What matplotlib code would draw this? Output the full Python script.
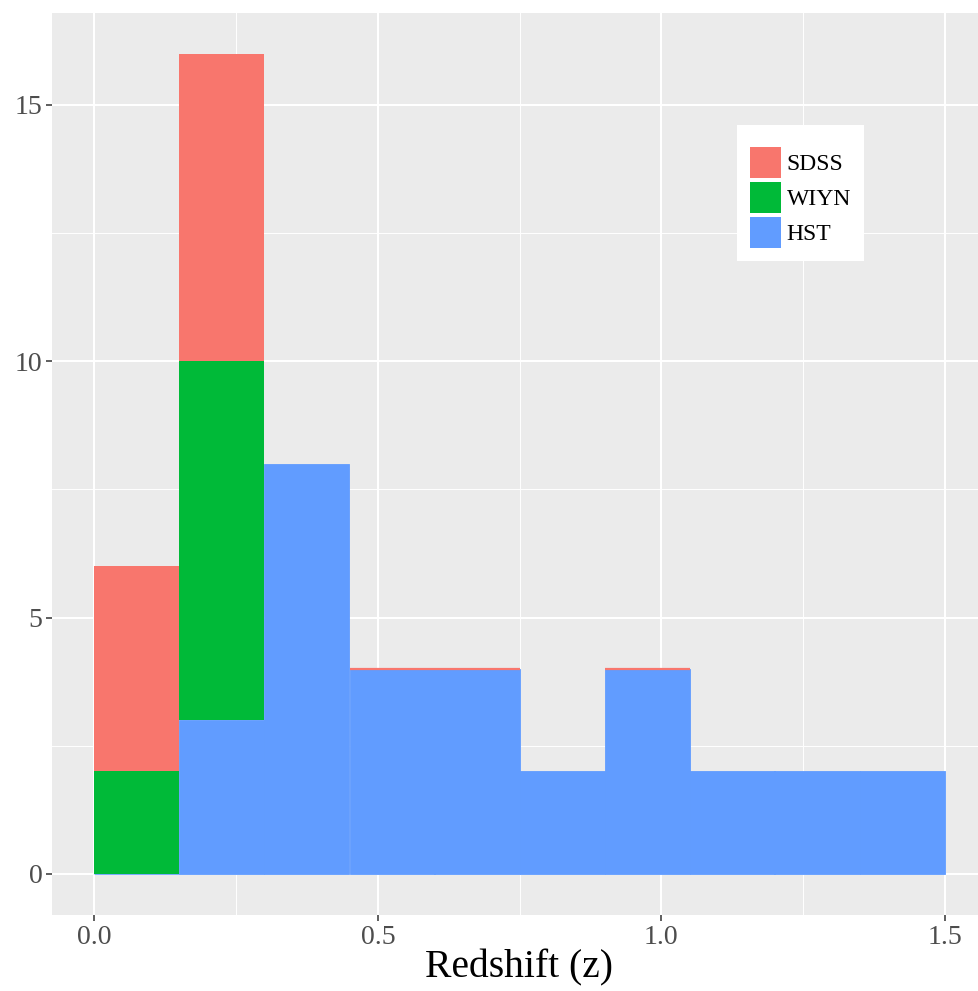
import numpy as np
import matplotlib
matplotlib.use('Agg')
from matplotlib import pyplot as plt
from matplotlib.patches import Patch

# histogram bins of redshift, width 0.15
bin_edges = [0.0, 0.15, 0.3, 0.45, 0.6, 0.75, 0.9, 1.05, 1.2, 1.35, 1.5]
hst = [0, 3, 8, 4, 4, 2, 4, 2, 2, 2]
wiyn = [2, 7, 0, 0, 0, 0, 0, 0, 0, 0]
sdss = [4, 6, 0, 0, 0, 0, 0, 0, 0, 0]
# empty SDSS bins that still show a thin outline in the original
sdss_outline = [False, False, False, True, True, False, True, False, False, False]

surveys = ['SDSS', 'WIYN', 'HST']
colors = {'SDSS': '#F8766D', 'WIYN': '#00BA38', 'HST': '#619CFF'}

plt.rcParams['font.family'] = ['Liberation Serif', 'DejaVu Serif']

fig = plt.figure(figsize=(9.79, 9.91), dpi=100)
ax = fig.add_axes([52 / 979, 1 - 915 / 991, 935 / 979, (915 - 12.7) / 991])
ax.set_facecolor('#EBEBEB')

left = np.array(bin_edges[:-1])
width = np.diff(bin_edges)
hst = np.array(hst)
wiyn = np.array(wiyn)
sdss = np.array(sdss)

ax.bar(left, hst, width=width, align='edge', color=colors['HST'],
       edgecolor=colors['HST'], linewidth=0.6, zorder=3)
ax.bar(left, wiyn, width=width, bottom=hst, align='edge', color=colors['WIYN'],
       linewidth=0, zorder=3)
ax.bar(left, sdss, width=width, bottom=hst + wiyn, align='edge', color=colors['SDSS'],
       linewidth=0, zorder=3)
for i, flag in enumerate(sdss_outline):
    if flag:
        top = hst[i] + wiyn[i] + sdss[i]
        ax.plot([left[i], left[i] + width[i]], [top, top], color=colors['SDSS'], lw=1.6,
                solid_capstyle='butt', zorder=4)

ax.set_xlim(-0.075, 1.575)
ax.set_ylim(-0.8, 16.8)
ax.set_xticks([0.0, 0.5, 1.0, 1.5])
ax.set_xticklabels(['0.0', '0.5', '1.0', '1.5'])
ax.set_yticks([0, 5, 10, 15])
ax.set_xticks([0.25, 0.75, 1.25], minor=True)
ax.set_yticks([2.5, 7.5, 12.5], minor=True)
ax.grid(True, which='major', color='white', lw=1.5, zorder=1)
ax.grid(True, which='minor', color='white', lw=0.7, zorder=1)
ax.set_axisbelow(True)
for s in ax.spines.values():
    s.set_visible(False)
ax.tick_params(which='major', length=4, width=1.1, color='#333333',
               labelcolor='#4D4D4D', labelsize=20, pad=3)
ax.tick_params(which='minor', length=0)

ax.set_xlabel('Redshift (z)', fontsize=28.5, labelpad=0)

handles = [Patch(facecolor=colors[s], edgecolor='none', label=s) for s in surveys]
leg = ax.legend(handles=handles, loc='upper left', bbox_to_anchor=(737 / 979, 1 - 125 / 991),
                bbox_transform=fig.transFigure, fontsize=17, frameon=True, fancybox=False,
                framealpha=1, edgecolor='white', facecolor='white', handlelength=1.31,
                handleheight=1.64, labelspacing=0.17, handletextpad=0.25, borderpad=0.55,
                borderaxespad=0, title=' ', title_fontsize=5)
leg.get_frame().set_linewidth(0)

plt.savefig('out.png', dpi=100)
